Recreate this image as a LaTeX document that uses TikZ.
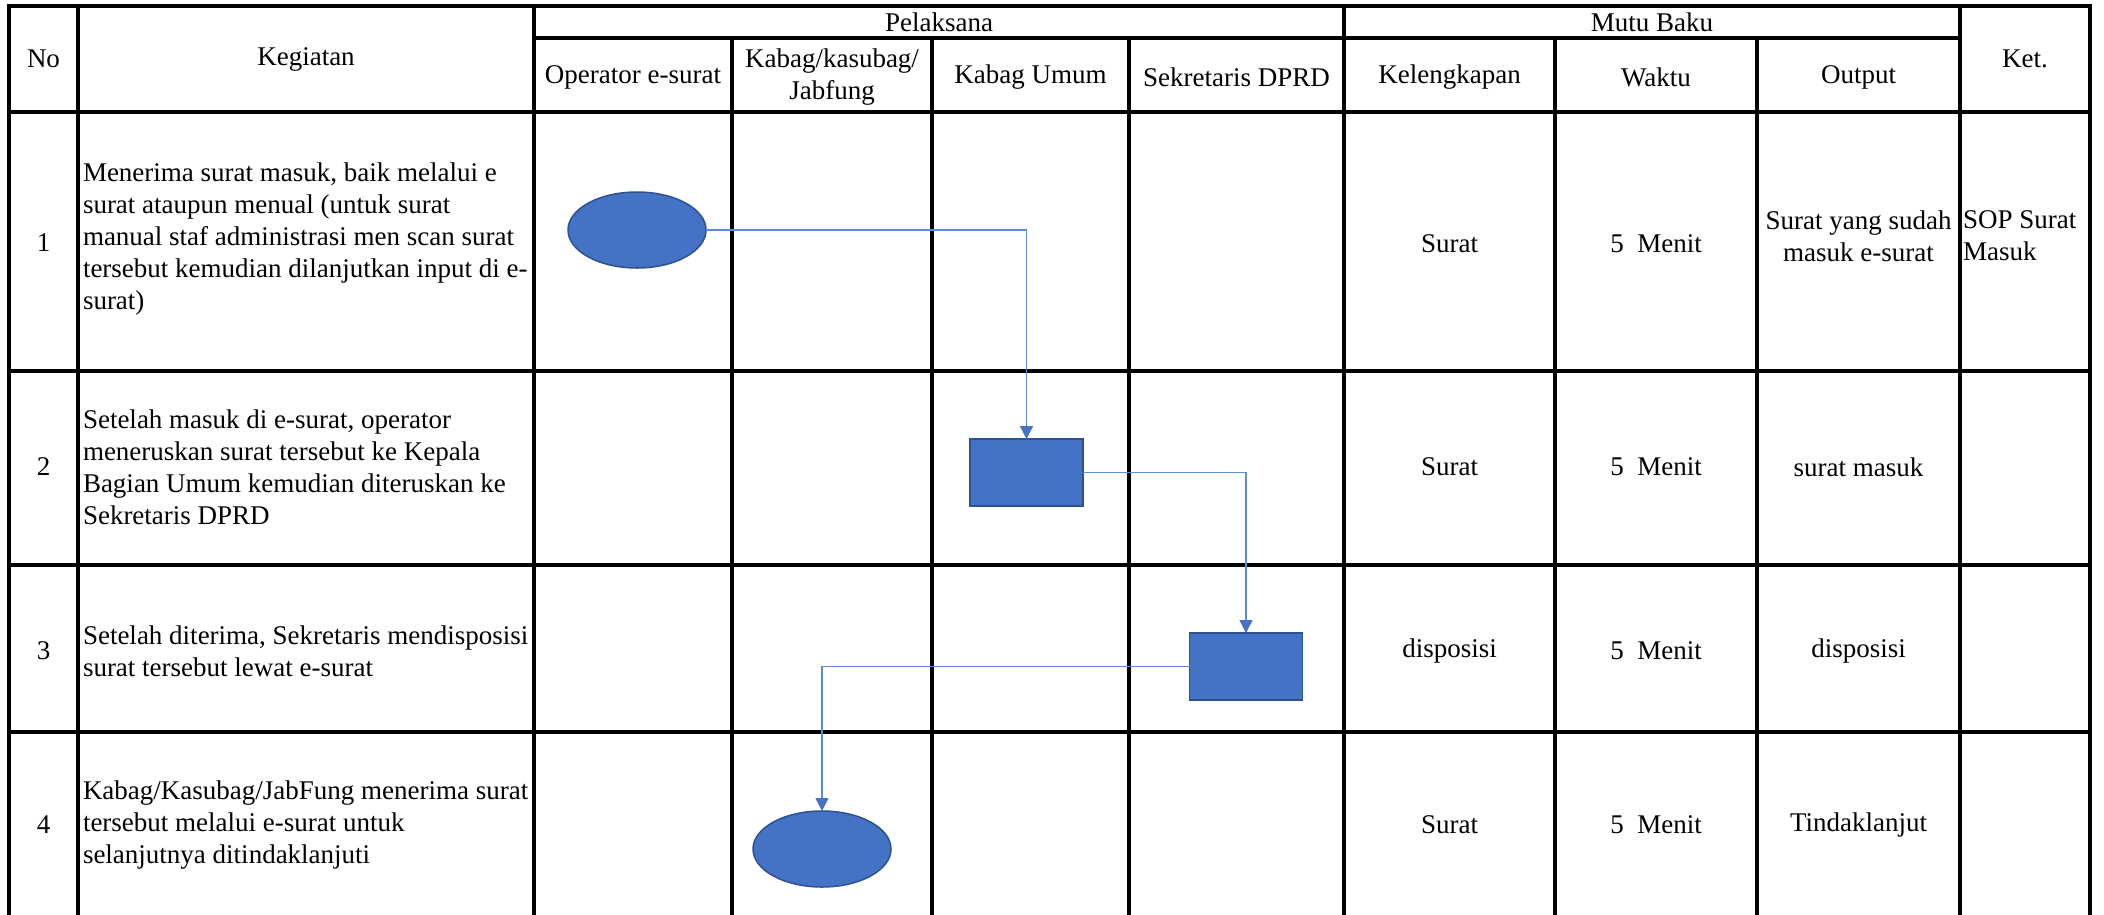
\documentclass[tikz,border=0pt]{standalone}
\usepackage{fontspec}
\setmainfont{Liberation Serif}
\usetikzlibrary{shapes.geometric,arrows.meta}
\definecolor{shapefill}{HTML}{4472C4}
\definecolor{shapeedge}{HTML}{2F528F}
\definecolor{conn}{HTML}{5B8BD9}
\begin{document}
\begin{tikzpicture}[x=1pt,y=-1pt,
  font=\fontsize{27}{32}\selectfont,
  gridline/.style={line width=3.3pt,line cap=rect},
  txt/.style={inner sep=0pt,outer sep=0pt,anchor=center,align=center},
  keg/.style={inner sep=0pt,outer sep=0pt,anchor=west,align=left},
  ket/.style={inner sep=0pt,outer sep=0pt,anchor=west,align=left},
  procbox/.style={rectangle,draw=shapeedge,fill=shapefill,line width=1.5pt,minimum width=113pt,minimum height=67pt,inner sep=0pt,outer sep=0pt},
  termbox/.style={ellipse,draw=shapeedge,fill=shapefill,line width=1.5pt,minimum width=138pt,minimum height=76pt,inner sep=0pt,outer sep=0pt},
  flow/.style={draw=conn,line width=1.3pt,-{Triangle[width=13pt,length=13pt,color=shapefill]}}
]
\useasboundingbox (0,0) rectangle (2104,914);
\fill[white] (0,0) rectangle (2104,914);

% horizontal lines
\draw[gridline] (9,6) -- (2090,6);
\draw[gridline] (534,38) -- (1960,38);
\foreach \yy in {112,371,565,732} \draw[gridline] (9,\yy) -- (2090,\yy);
% vertical lines
\foreach \xx in {9,78,534,1344,1960,2090} \draw[gridline] (\xx,6) -- (\xx,920);
\foreach \xx in {732,932,1129,1555,1757} \draw[gridline] (\xx,38) -- (\xx,920);

% header
\node[txt] (hno) at (43.5,59) {No};
\node[txt] (hkeg) at (306,59) {Kegiatan};
\node[txt] (hpel) at (939,22) {Pelaksana};
\node[txt] (hmutu) at (1652,22) {Mutu Baku};
\node[txt] (hket) at (2025,59) {Ket.};
\node[txt] (hop) at (633,77) {Operator e-surat};
\node[txt] (hkab) at (832,77) {Kabag/kasubag/\\Jabfung};
\node[txt] (hkum) at (1030.5,77) {Kabag Umum};
\node[txt] (hsek) at (1236.5,77) {Sekretaris DPRD};
\node[txt] (hkel) at (1449.5,77) {Kelengkapan};
\node[txt] (hwak) at (1656,77) {Waktu};
\node[txt] (hout) at (1858.5,77) {Output};

% row numbers
\node[txt] (n1) at (43.5,243) {1};
\node[txt] (n2) at (43.5,467) {2};
\node[txt] (n3) at (43.5,651) {3};
\node[txt] (n4) at (43.5,825) {4};

% kegiatan
\node[keg] (k1) at (83,239) {Menerima surat masuk, baik melalui e\\surat ataupun menual (untuk surat\\manual staf administrasi men scan surat\\tersebut kemudian dilanjutkan input di e-\\surat)};
\node[keg] (k2) at (83,467) {Setelah masuk di e-surat, operator\\meneruskan surat tersebut ke Kepala\\Bagian Umum kemudian diteruskan ke\\Sekretaris DPRD};
\node[keg] (k3) at (83,651) {Setelah diterima, Sekretaris mendisposisi\\surat tersebut lewat e-surat};
\node[keg] (k4) at (83,825) {Kabag/Kasubag/JabFung menerima surat\\tersebut melalui e-surat untuk\\selanjutnya ditindaklanjuti};

% mutu baku
\node[txt] (kel1) at (1449.5,244) {Surat};
\node[txt] (wak1) at (1656,244) {5\ \ Menit};
\node[txt] (out1) at (1858.5,236) {Surat yang sudah\\masuk e-surat};
\node[ket] (ket1) at (1963,236) {SOP Surat\\Masuk};

\node[txt] (kel2) at (1449.5,467) {Surat};
\node[txt] (wak2) at (1656,467) {5\ \ Menit};
\node[txt] (out2) at (1858.5,467) {surat masuk};

\node[txt] (kel3) at (1449.5,651) {disposisi};
\node[txt] (wak3) at (1656,651) {5\ \ Menit};
\node[txt] (out3) at (1858.5,651) {disposisi};

\node[txt] (kel4) at (1449.5,825) {Surat};
\node[txt] (wak4) at (1656,825) {5\ \ Menit};
\node[txt] (out4) at (1858.5,825) {Tindaklanjut};

% flow shapes
\node[termbox] (e1) at (637,230) {};
\node[procbox] (r2) at (1026.5,472.5) {};
\node[procbox] (r3) at (1246,666.5) {};
\node[termbox] (e4) at (822,849) {};

% connectors
\draw[flow] (e1.east) -| (r2.north);
\draw[flow] (r2.east) -| (r3.north);
\draw[flow] (r3.west) -| (e4.north);
\end{tikzpicture}
\end{document}
